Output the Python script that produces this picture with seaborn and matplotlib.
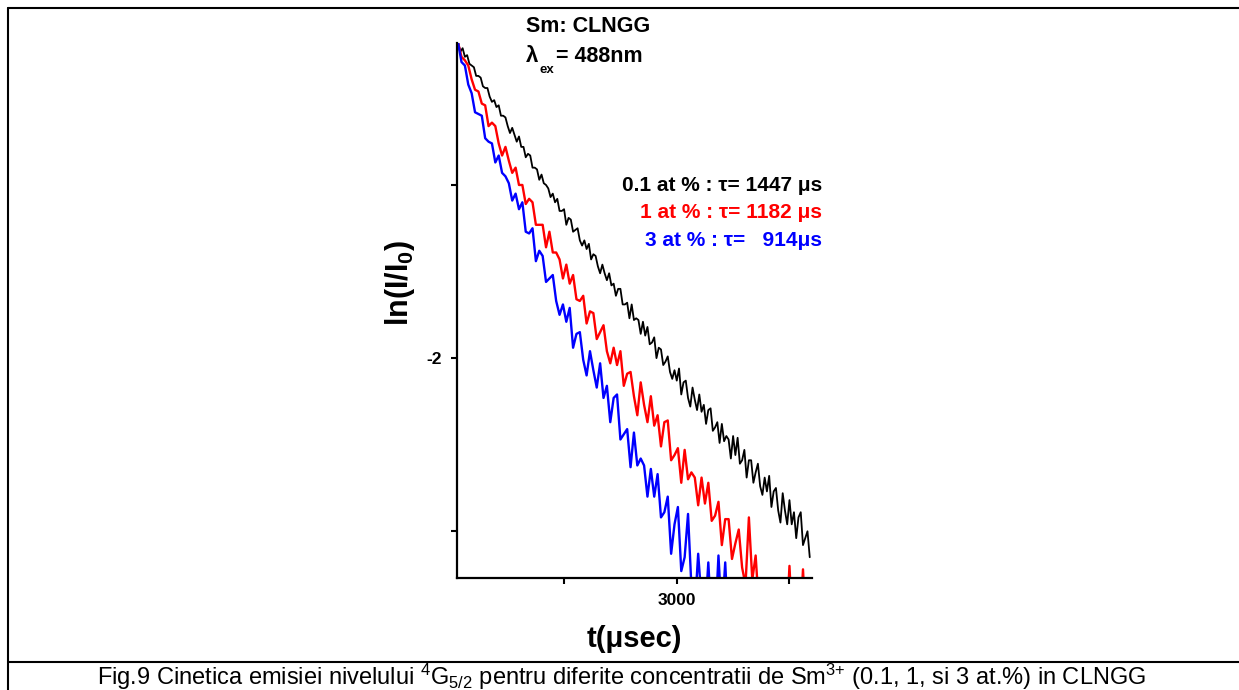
## Decay kinetics of the Sm 4G5/2 level in CLNGG for three concentrations.
import numpy as np
import matplotlib.pyplot as plt
import seaborn as sns
from matplotlib.lines import Line2D

# Time channels (usec) and ln(I/I0) values.
t_black = np.arange(1060, 4200, 20)
y_black = [-0.18, -0.23, -0.21, -0.26, -0.25, -0.30, -0.31, -0.32, -0.37, -0.37,
           -0.38, -0.43, -0.44, -0.44, -0.49, -0.52, -0.51, -0.55, -0.54, -0.60,
           -0.60, -0.61, -0.66, -0.70, -0.67, -0.71, -0.75, -0.72, -0.78, -0.78,
           -0.84, -0.82, -0.83, -0.90, -0.90, -0.91, -0.97, -0.94, -0.99, -1.00,
           -1.02, -1.07, -1.05, -1.10, -1.08, -1.15, -1.15, -1.14, -1.23, -1.19,
           -1.20, -1.27, -1.26, -1.25, -1.32, -1.35, -1.32, -1.37, -1.34, -1.43,
           -1.40, -1.41, -1.47, -1.51, -1.46, -1.51, -1.55, -1.51, -1.58, -1.57,
           -1.64, -1.60, -1.60, -1.69, -1.69, -1.68, -1.77, -1.69, -1.78, -1.77,
           -1.78, -1.86, -1.79, -1.87, -1.82, -1.92, -1.91, -1.88, -2.00, -1.94,
           -1.95, -2.04, -2.02, -1.99, -2.08, -2.12, -2.07, -2.13, -2.06, -2.21,
           -2.14, -2.13, -2.23, -2.28, -2.17, -2.24, -2.30, -2.21, -2.31, -2.27,
           -2.38, -2.30, -2.29, -2.42, -2.40, -2.37, -2.49, -2.38, -2.48, -2.45,
           -2.47, -2.58, -2.45, -2.56, -2.46, -2.61, -2.59, -2.53, -2.69, -2.59,
           -2.59, -2.72, -2.66, -2.61, -2.74, -2.79, -2.69, -2.77, -2.68, -2.86,
           -2.77, -2.75, -2.88, -2.95, -2.78, -2.88, -2.96, -2.82, -2.96, -2.89,
           -3.04, -2.92, -2.89, -3.08, -3.04, -3.00, -3.15]

t_red = np.arange(1060, 4160, 30)
y_red = [-0.18, -0.26, -0.28, -0.31, -0.39, -0.45, -0.46, -0.53, -0.54, -0.66,
         -0.64, -0.66, -0.76, -0.83, -0.78, -0.86, -0.93, -0.90, -1.00, -1.00,
         -1.11, -1.08, -1.10, -1.23, -1.23, -1.23, -1.36, -1.27, -1.39, -1.39,
         -1.43, -1.54, -1.46, -1.57, -1.52, -1.66, -1.67, -1.64, -1.80, -1.73,
         -1.74, -1.89, -1.85, -1.81, -1.96, -2.03, -1.94, -2.04, -1.96, -2.16,
         -2.09, -2.08, -2.22, -2.33, -2.14, -2.27, -2.37, -2.22, -2.39, -2.33,
         -2.51, -2.37, -2.36, -2.59, -2.56, -2.52, -2.72, -2.53, -2.70, -2.66,
         -2.69, -2.85, -2.69, -2.84, -2.72, -2.94, -2.91, -2.83, -3.08, -2.93,
         -2.93, -3.16, -3.07, -2.99, -3.21, -3.31, -2.92, -3.28, -3.14, -3.45,
         -3.31, -3.28, -3.50, -3.55, -3.40, -3.60, -3.60, -3.60, -3.20, -3.60,
         -3.60, -3.60, -3.22, -3.60]

t_blue = np.arange(1060, 3500, 30)
y_blue = [-0.18, -0.29, -0.31, -0.42, -0.47, -0.58, -0.59, -0.60, -0.73, -0.75,
          -0.76, -0.87, -0.83, -0.93, -0.95, -0.99, -1.09, -1.05, -1.14, -1.10,
          -1.27, -1.28, -1.25, -1.44, -1.38, -1.41, -1.56, -1.54, -1.52, -1.67,
          -1.75, -1.69, -1.79, -1.71, -1.94, -1.86, -1.85, -2.01, -2.10, -1.96,
          -2.07, -2.17, -2.03, -2.23, -2.16, -2.37, -2.23, -2.21, -2.47, -2.44,
          -2.41, -2.63, -2.43, -2.62, -2.58, -2.62, -2.80, -2.64, -2.80, -2.67,
          -2.92, -2.89, -2.80, -3.13, -2.96, -2.86, -3.23, -3.15, -2.90, -3.32,
          -3.45, -3.13, -3.40, -3.50, -3.18, -3.55, -3.55, -3.14, -3.50, -3.18,
          -3.60, -3.60]

series = [(t_black, y_black, 'black', 1.3),
          (t_red, y_red, 'red', 1.7),
          (t_blue, y_blue, 'blue', 1.7)]

legend_lines = ['0.1 at % : \u03c4= 1447 \u03bcs',
                '1 at % : \u03c4= 1182 \u03bcs',
                '3 at % : \u03c4=   914\u03bcs']
legend_colors = ['black', 'red', 'blue']

sns.set_style('ticks')
plt.rcParams['font.family'] = ['Liberation Sans', 'DejaVu Sans']
plt.rcParams['mathtext.fontset'] = 'custom'
plt.rcParams['mathtext.rm'] = 'Liberation Sans'
plt.rcParams['mathtext.bf'] = 'Liberation Sans:bold'
for key in ['axes.edgecolor', 'text.color', 'xtick.color', 'ytick.color', 'axes.labelcolor']:
    plt.rcParams[key] = 'black'

fig = plt.figure(figsize=(12.39, 6.90), dpi=100)
ax = fig.add_axes([457 / 1239, 1 - 578 / 690, 355 / 1239, 535 / 690])

for t, y, color, lw in series:
    sns.lineplot(x=t, y=y, ax=ax, color=color, lw=lw, estimator=None, sort=False)

ax.set_xlim(1050, 4200)
ax.set_ylim(-3.27, -0.18)
ax.set_xticks([2000, 3000, 4000])
ax.set_xticklabels(['', '3000', ''])
ax.set_yticks([-3, -2, -1])
ax.set_yticklabels(['', '-2', ''])
ax.tick_params(direction='out', length=4, width=1.5, labelsize=12.5, pad=7)
for lab in ax.get_xticklabels() + ax.get_yticklabels():
    lab.set_fontweight('bold')
for side in ['top', 'right']:
    ax.spines[side].set_visible(False)
for side in ['left', 'bottom']:
    ax.spines[side].set_linewidth(1.6)
ax.set_xlabel('t(\u03bcsec)', fontsize=21, fontweight='bold', labelpad=12)
ax.set_ylabel('')
fig.text(400 / 1239, 1 - 283 / 690, r'ln(I/I$\mathbf{_0}$)', fontsize=22,
         fontweight='bold', rotation=90, ha='center', va='center')

# Annotations.
fig.text(526 / 1239, 1 - 27 / 690, 'Sm: CLNGG', fontsize=15.5, fontweight='bold',
         va='center', ha='left')
fig.text(526 / 1239, 1 - 56 / 690, '\u03bb', fontsize=16, fontweight='bold',
         va='center', ha='left')
fig.text(539 / 1239, 1 - 70 / 690, 'ex', fontsize=9.5, fontweight='bold',
         va='center', ha='left')
fig.text(556 / 1239, 1 - 57 / 690, '= 488nm', fontsize=15.5, fontweight='bold',
         va='center', ha='left')
for i, (txt, col) in enumerate(zip(legend_lines, legend_colors)):
    fig.text(822 / 1239, 1 - (185 + 28 * i) / 690, txt, fontsize=15,
             fontweight='bold', color=col, va='center', ha='right')

# Frame and caption.
lw_frame = 1.5
fig.add_artist(Line2D([8 / 1239, 8 / 1239], [0, 1 - 8 / 690], color='black', lw=lw_frame))
fig.add_artist(Line2D([8 / 1239, 1], [1 - 8 / 690, 1 - 8 / 690], color='black', lw=lw_frame))
fig.add_artist(Line2D([8 / 1239, 1], [1 - 662 / 690, 1 - 662 / 690], color='black', lw=lw_frame))
fig.text(622 / 1239, 1 - 685 / 690,
         r'Fig.9 Cinetica emisiei nivelului $\mathregular{^4}$G$\mathregular{_{5/2}}$ pentru diferite '
         r'concentratii de Sm$\mathregular{^{3{+}}}$ (0.1, 1, si 3 at.%) in CLNGG',
         fontsize=17, ha='center', va='baseline')

plt.savefig('out.png', dpi=100)
